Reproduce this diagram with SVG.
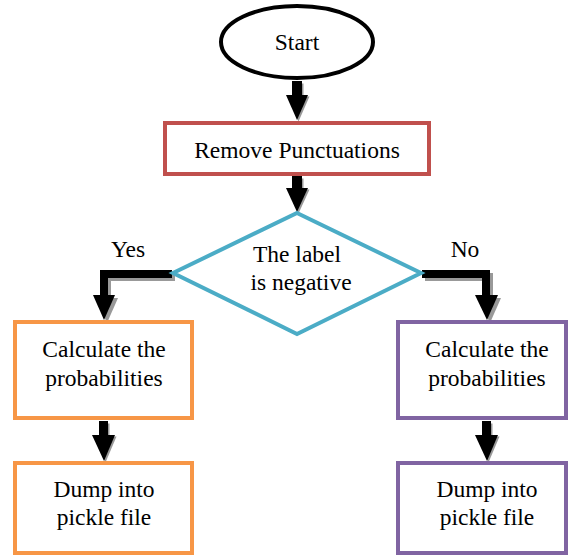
<svg xmlns="http://www.w3.org/2000/svg" width="568" height="556" viewBox="0 0 568 556">
<style>
text{font-family:'Liberation Serif','Times New Roman',serif;font-size:23.5px;fill:#000;text-anchor:middle}
.sh{fill:#999}
.ar{fill:#000}
.ln{fill:none;stroke-width:8;stroke-linejoin:miter}
</style>
<rect width="568" height="556" fill="#fff"/>
<g id="connectors">
  <g transform="translate(1.5,1.5)" class="sh"><rect x="292" y="82" width="10" height="14"/><polygon points="286,95 308,95 297,120"/></g>
  <g class="ar"><rect x="292" y="81" width="10" height="15"/><polygon points="286,95 308,95 297,120"/></g>
  <g transform="translate(1.5,1.5)" class="sh"><rect x="292" y="177" width="10" height="12"/><polygon points="286,188 308,188 297,212"/></g>
  <g class="ar"><rect x="292" y="176" width="10" height="13"/><polygon points="286,188 308,188 297,212"/></g>
  <g transform="translate(3,3)"><polyline class="ln" stroke="#999" points="172,274 104,274 104,297"/><polygon class="sh" points="93,295 115,295 104,320"/></g>
  <polyline class="ln" stroke="#000" points="172,274 104,274 104,297"/>
  <polygon class="ar" points="93,295 115,295 104,320"/>
  <g transform="translate(3,3)"><polyline class="ln" stroke="#999" points="422,274 486,274 486,297"/><polygon class="sh" points="475,295 498,295 487,320"/></g>
  <polyline class="ln" stroke="#000" points="422,274 486,274 486,297"/>
  <polygon class="ar" points="475,295 498,295 487,320"/>
  <g transform="translate(1.5,1.5)" class="sh"><rect x="99" y="422" width="9" height="14"/><polygon points="92,435 115,435 104,461"/></g>
  <g class="ar"><rect x="99" y="421" width="9" height="15"/><polygon points="92,435 115,435 104,461"/></g>
  <g transform="translate(1.5,1.5)" class="sh"><rect x="482" y="422" width="9" height="14"/><polygon points="475,435 498,435 487,461"/></g>
  <g class="ar"><rect x="482" y="421" width="9" height="15"/><polygon points="475,435 498,435 487,461"/></g>
  <text x="128" y="257">Yes</text>
  <text x="465" y="257">No</text>
</g>
<g id="start">
  <ellipse cx="297" cy="42" rx="76" ry="36" fill="#fff" stroke="#000" stroke-width="4"/>
  <text x="297" y="50">Start</text>
</g>
<g id="remove">
  <rect x="165" y="123" width="264" height="51" fill="#fff" stroke="#C0504D" stroke-width="4"/>
  <text x="297" y="158">Remove Punctuations</text>
</g>
<g id="decision">
  <polygon points="297,213 421,273 297,334 173,273" fill="#fff" stroke="#4BACC6" stroke-width="4"/>
  <text x="297" y="262">The label</text>
  <text x="301" y="290">is negative</text>
</g>
<g id="calcYes">
  <rect x="15" y="322" width="177" height="96" fill="#fff" stroke="#F79646" stroke-width="4"/>
  <text x="104" y="357">Calculate the</text>
  <text x="104" y="386">probabilities</text>
</g>
<g id="dumpYes">
  <rect x="15" y="463" width="177" height="90" fill="#fff" stroke="#F79646" stroke-width="4"/>
  <text x="104" y="497">Dump into</text>
  <text x="104" y="525">pickle file</text>
</g>
<g id="calcNo">
  <rect x="398" y="322" width="168" height="96" fill="#fff" stroke="#8064A2" stroke-width="4"/>
  <text x="487" y="357">Calculate the</text>
  <text x="487" y="386">probabilities</text>
</g>
<g id="dumpNo">
  <rect x="398" y="463" width="168" height="90" fill="#fff" stroke="#8064A2" stroke-width="4"/>
  <text x="487" y="497">Dump into</text>
  <text x="487" y="525">pickle file</text>
</g>
</svg>
